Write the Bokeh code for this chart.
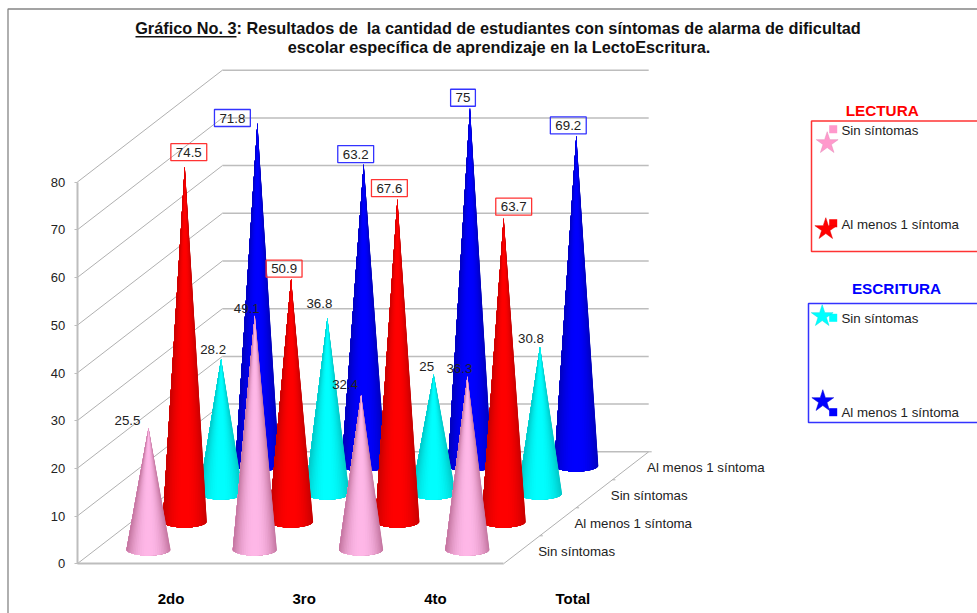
from bokeh.plotting import figure
from bokeh.models import LinearAxis, FixedTicker, Range1d
from bokeh.core.properties import value
from bokeh.embed import file_html
from bokeh.resources import INLINE
import math

# ---- data ----
categories = ["2do", "3ro", "4to", "Total"]
row_names = ["Sin síntomas", "Al menos 1 síntoma", "Sin síntomas", "Al menos 1 síntoma"]
lectura_sin = [25.5, 49.1, 32.4, 36.3]
lectura_al = [74.5, 50.9, 67.6, 63.7]
escritura_sin = [28.2, 36.8, 25, 30.8]
escritura_al = [71.8, 63.2, 75, 69.2]
y_ticks = [0, 10, 20, 30, 40, 50, 60, 70, 80]
title_lines = ["Gráfico No. 3: Resultados de\u00a0 la cantidad de estudiantes con síntomas de alarma de dificultad",
               "escolar específica de aprendizaje en la LectoEscritura."]

series = [lectura_sin, lectura_al, escritura_sin, escritura_al]
edge_cols = [(196, 118, 160), (200, 0, 0), (0, 200, 200), (0, 0, 190)]
mid_cols = [(255, 184, 232), (255, 0, 0), (0, 255, 255), (0, 0, 255)]
flat_cols = ["#FF99CC", "#FF0000", "#00FFFF", "#0000FF"]
box_cols = [None, "#FF3333", None, "#3333FF"]
# label offsets in pixels from the cone tip
label_off = [
    [(-21, -7), (-8, -7), (-16, -10), (-8, -8)],
    [(4, -14), (-7, -10), (-8, -11), (10, -11)],
    [(-8, -9), (-8, -14), (-7, -8), (-9, -8)],
    [(-25, -5), (-8, -10), (-7, -10), (-8, -10)],
]

# ---- geometry ----
W, H = 977, 613
PAGE_X, PAGE_Y = 0, 0
PX = 4.77            # pixels per value unit
Y0 = 563.3           # page y of value 0


def vy(page_y):
    return (Y0 - page_y) / PX


AX_L = 76.7
AX_R = 503.0
DX = 36.3            # depth step x
DY = 28 / PX         # depth step y, value units
CAT_DX = 106.3
CX0 = 148.0
BASE0 = vy(549)
R = 22.0
r = 6.0 / PX
BACK_DX, BACK_DY = 4 * DX, 4 * DY
BACK_R = AX_R + BACK_DX

p = figure(width=W, height=H, output_backend="svg", toolbar_location=None,
           x_range=Range1d(PAGE_X, PAGE_X + W),
           y_range=Range1d(vy(PAGE_Y + H), vy(PAGE_Y)),
           x_axis_location=None, y_axis_location=None,
           min_border=0, outline_line_color=None)
p.xgrid.visible = False
p.ygrid.visible = False

F = value("Liberation Sans")

# chart frame
p.line([7.5, 7.5, PAGE_X + W], [vy(PAGE_Y + H), vy(8.5), vy(8.5)], line_color="#858585", line_width=1.3)

# walls
p.segment([AX_L + 0] * len(y_ticks), y_ticks, [AX_L + BACK_DX] * len(y_ticks),
          [t + BACK_DY for t in y_ticks], line_color="#B0B0B0", line_width=1)
p.segment([AX_L + BACK_DX] * len(y_ticks), [t + BACK_DY for t in y_ticks],
          [BACK_R] * len(y_ticks), [t + BACK_DY for t in y_ticks], line_color="#BDBDBD", line_width=1.5)
p.segment([AX_R], [0], [BACK_R], [BACK_DY], line_color="#B0B0B0", line_width=1)
p.segment([AX_R + DX * k for k in range(1, 5)], [DY * k for k in range(1, 5)],
          [AX_R + DX * k + 3 for k in range(1, 5)], [DY * k for k in range(1, 5)],
          line_color="#B0B0B0", line_width=1)

# real axes
ya = LinearAxis(fixed_location=AX_L, ticker=FixedTicker(ticks=y_ticks), bounds=(0, 80),
                axis_line_color="#BDBDBD", axis_line_width=2,
                major_tick_line_color="#BDBDBD", major_tick_in=0, major_tick_out=3, minor_tick_line_color=None,
                major_label_text_font="Liberation Sans", major_label_text_font_size="13px",
                major_label_text_color="#222222", major_label_standoff=9)
p.add_layout(ya, "left")

cat_x = [170.5, 303.7, 435.0, 572.3]
xa = LinearAxis(fixed_location=0, ticker=FixedTicker(ticks=cat_x), bounds=(AX_L, AX_R),
                major_label_overrides={x: c for x, c in zip(cat_x, categories)},
                axis_line_color="#BDBDBD", axis_line_width=2,
                major_tick_line_color=None, minor_tick_line_color=None,
                major_label_text_font="Liberation Sans", major_label_text_font_size="15px",
                major_label_text_font_style="bold", major_label_text_color="#000000",
                major_label_standoff=20)
p.add_layout(xa, "below")

# cones, back row first; each shading strip is painted over the rest of the cone
N = 30
for row in (3, 2, 1, 0):
    xs, ys, cols = [], [], []
    for ci, v in enumerate(series[row]):
        cx = CX0 + CAT_DX * ci + DX * row
        by = BASE0 + DY * row
        tip = by + v
        for k in range(N):
            arc = [math.pi * j / N for j in range(k, N + 1)]
            xs.append([cx] + [cx + R * math.cos(a) for a in arc])
            ys.append([tip] + [by - r * math.sin(a) for a in arc])
            f = abs(math.cos(math.pi * (k + 0.5) / N)) ** 2.2
            e, m = edge_cols[row], mid_cols[row]
            c = tuple(int(m[j] + (e[j] - m[j]) * f) for j in range(3))
            cols.append("#%02x%02x%02x" % c)
    p.patches(xs, ys, fill_color=cols, line_color=None)

# value labels
for row in (3, 2, 1, 0):
    xs = [CX0 + CAT_DX * i + DX * row for i in range(4)]
    ys = [BASE0 + DY * row + v for v in series[row]]
    txt = [str(v) for v in series[row]]
    kw = {}
    if box_cols[row]:
        kw = dict(border_line_color=box_cols[row], border_line_width=1.3, padding=(5, 4))
    p.text(xs, ys, text=txt, x_offset=[o[0] for o in label_off[row]], y_offset=[o[1] for o in label_off[row]],
           text_font=F, text_font_size="13.3px", text_color="#222222", text_align="center",
           text_baseline="middle", **kw)

# depth axis labels
p.text([AX_R + 34.7 + DX * k for k in range(4)], [vy(550.5) + DY * k for k in range(4)], text=row_names,
       text_font=F, text_font_size="13.3px", text_color="#222222", text_baseline="middle")

# title
p.text([497.5, 498.5], [vy(27.7), vy(46.2)], text=title_lines, text_font=F, text_font_size="16.3px",
       text_font_style="bold", text_color="#111111", text_align="center", text_baseline="middle")
p.line([135, 236], [vy(36.3), vy(36.3)], line_color="#111111", line_width=1.5)

# legends
for (x0, top, bot, col) in [(811, 120.5, 251, "#FF3333"), (808, 303, 422, "#3333FF")]:
    p.line([PAGE_X + W, x0, x0, PAGE_X + W], [vy(top), vy(top), vy(bot), vy(bot)], line_color=col, line_width=1.5)
p.text([881.7, 896], [vy(109.7), vy(287.7)], text=["LECTURA", "ESCRITURA"], text_font=F, text_font_size="15.3px",
       text_font_style="bold", text_color=["#FF0000", "#0000FF"], text_align="center", text_baseline="middle")
p.text([841] * 4, [vy(129.7), vy(223.5), vy(317.9), vy(411.9)], text=row_names, text_font=F, text_font_size="13.3px",
       text_color="#222222", text_baseline="middle")
sq_y = [128.7, 222.7, 317.3, 411.7]
p.scatter([832.7] * 4, [vy(y) for y in sq_y], marker="square", size=8, fill_color=flat_cols, line_color=None)
p.scatter([826.7, 825.3, 821.7, 822.3], [vy(142.7), vy(228.7), vy(315.7), vy(400.7)], marker="star", size=23,
          fill_color=flat_cols, line_color=["#E58AB8", "#E00000", "#00E0E0", "#0000D0"], line_width=0.5)

open("out.html", "w").write(file_html(p, INLINE))
